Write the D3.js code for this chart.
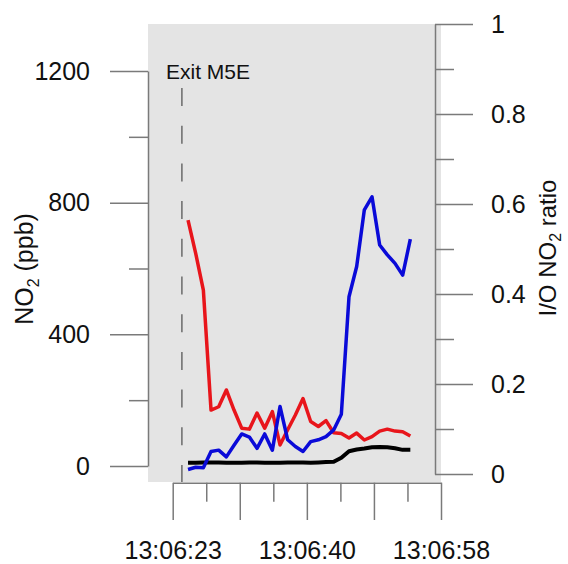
<!DOCTYPE html>
<html>
<head>
<meta charset="utf-8">
<script src="https://cdn.jsdelivr.net/npm/d3@7"></script>
<style>
  body { margin: 0; background: #fff; }
  text { font-family: "Liberation Sans", Arial, sans-serif; fill: #111; }
</style>
</head>
<body>
<div id="chart"></div>
<script>
// seconds after 13:06:00
const times = [25, 26, 27, 28, 29, 30, 31, 32, 33, 34, 35, 36, 37, 38, 39,
               40, 41, 42, 43, 44, 45, 46, 47, 48, 49, 50, 51, 52, 53, 54];
// outdoor NO2 (ppb) - red
const no2Out = [747, 646, 534, 170, 180, 231, 170, 115, 112, 161, 115, 165, 64, 110, 155,
                205, 135, 120, 138, 101, 99, 85, 100, 79, 89, 106, 112, 106, 104, 91];
// indoor NO2 (ppb) - black
const no2In = [10, 10, 11, 11, 11, 10, 10, 10, 11, 11, 10, 10, 10, 11, 11,
               11, 10, 11, 12, 13, 25, 45, 50, 53, 57, 58, 57, 54, 49, 49];
// I/O ratio - blue
const ioRatio = [0.010, 0.015, 0.014, 0.050, 0.053, 0.038, 0.064, 0.089, 0.082, 0.057, 0.089, 0.053, 0.150, 0.076, 0.061,
                 0.050, 0.072, 0.076, 0.083, 0.098, 0.133, 0.394, 0.461, 0.587, 0.616, 0.509, 0.487, 0.468, 0.442, 0.522];

const xTicks = [23, 31.75, 40.5, 49.25, 58];
const xMinor = [27.375, 36.125, 44.875, 53.625];
const xTickLabels = ["13:06:23", "", "13:06:40", "", "13:06:58"];
const leftTicks = [0, 400, 800, 1200];
const leftMinor = [200, 600, 1000];
const rightTicks = [0, 0.2, 0.4, 0.6, 0.8, 1];
const rightMinor = [0.1, 0.3, 0.5, 0.7, 0.9];
const exitTime = 24.2;

const W = 568, H = 564;
const axisCol = "#7a7a7a";

const svg = d3.select("#chart").append("svg")
    .attr("width", W).attr("height", H);

const x = d3.scaleLinear().domain([23, 58]).range([172.7, 441]);
const yL = d3.scaleLinear().domain([0, 1200]).range([466, 71]);
const yR = d3.scaleLinear().domain([0, 1]).range([474, 24]);

// grey plot panel
svg.append("rect")
    .attr("x", 148).attr("y", 24)
    .attr("width", 293).attr("height", 458)
    .attr("fill", "#e4e4e4");

// exit marker
svg.append("line")
    .attr("x1", x(exitTime)).attr("x2", x(exitTime))
    .attr("y1", 88).attr("y2", 482)
    .attr("stroke", "#6a6a6a").attr("stroke-width", 1.5)
    .attr("stroke-dasharray", "18,19.7");

svg.append("text")
    .attr("x", 166).attr("y", 79)
    .style("font-size", "21px")
    .text("Exit M5E");

function styleAxis(g) {
    g.select(".domain").attr("stroke", axisCol).attr("stroke-width", 1.5);
    g.selectAll(".tick line").attr("stroke", axisCol).attr("stroke-width", 1.5);
    g.selectAll("text").style("font-size", "25px").attr("fill", "#111");
}

// left axis
const gL = svg.append("g").attr("transform", "translate(148,0)")
    .call(d3.axisLeft(yL).tickValues(leftTicks).tickSize(38).tickSizeOuter(0).tickPadding(20)
        .tickFormat(d3.format("d")));
gL.call(styleAxis);
const gLm = svg.append("g").attr("transform", "translate(148,0)")
    .call(d3.axisLeft(yL).tickValues(leftMinor).tickSize(19).tickFormat(""));
gLm.select(".domain").remove();
gLm.call(styleAxis);

// right axis
const gR = svg.append("g").attr("transform", "translate(435,0)")
    .call(d3.axisRight(yR).tickValues(rightTicks).tickSize(38).tickSizeOuter(0).tickPadding(18)
        .tickFormat(d => d === 0 || d === 1 ? d3.format("d")(d) : d3.format(".1f")(d)));
gR.call(styleAxis);
const gRm = svg.append("g").attr("transform", "translate(435,0)")
    .call(d3.axisRight(yR).tickValues(rightMinor).tickSize(19).tickFormat(""));
gRm.select(".domain").remove();
gRm.call(styleAxis);

// bottom axis
const gB = svg.append("g").attr("transform", "translate(0,482.7)")
    .call(d3.axisBottom(x).tickValues(xTicks).tickSize(37.3).tickSizeOuter(0).tickPadding(21)
        .tickFormat((d, i) => xTickLabels[i]));
gB.call(styleAxis);
const gBm = svg.append("g").attr("transform", "translate(0,482.7)")
    .call(d3.axisBottom(x).tickValues(xMinor).tickSize(19).tickFormat(""));
gBm.select(".domain").remove();
gBm.call(styleAxis);

// axis titles
const tL = svg.append("text")
    .attr("transform", "translate(33,269) rotate(-90)")
    .attr("text-anchor", "middle")
    .style("font-size", "25px");
tL.append("tspan").text("NO");
tL.append("tspan").attr("dy", 6).style("font-size", "16px").text("2");
tL.append("tspan").attr("dy", -6).text(" (ppb)");

const tR = svg.append("text")
    .attr("transform", "translate(556,248) rotate(-90)")
    .attr("text-anchor", "middle")
    .style("font-size", "24px");
tR.append("tspan").text("I/O NO");
tR.append("tspan").attr("dy", 5).style("font-size", "16px").text("2");
tR.append("tspan").attr("dy", -5).text(" ratio");

// series
const lineL = vals => d3.line().x((d, i) => x(times[i])).y(d => yL(d))(vals);
const lineR = vals => d3.line().x((d, i) => x(times[i])).y(d => yR(d))(vals);

svg.append("path").attr("d", lineL(no2In))
    .attr("fill", "none").attr("stroke", "#000").attr("stroke-width", 4)
    .attr("stroke-linejoin", "round");
svg.append("path").attr("d", lineL(no2Out))
    .attr("fill", "none").attr("stroke", "#e8151b").attr("stroke-width", 3.5)
    .attr("stroke-linejoin", "round");
svg.append("path").attr("d", lineR(ioRatio))
    .attr("fill", "none").attr("stroke", "#0a0ad8").attr("stroke-width", 3.5)
    .attr("stroke-linejoin", "round");
</script>
</body>
</html>
